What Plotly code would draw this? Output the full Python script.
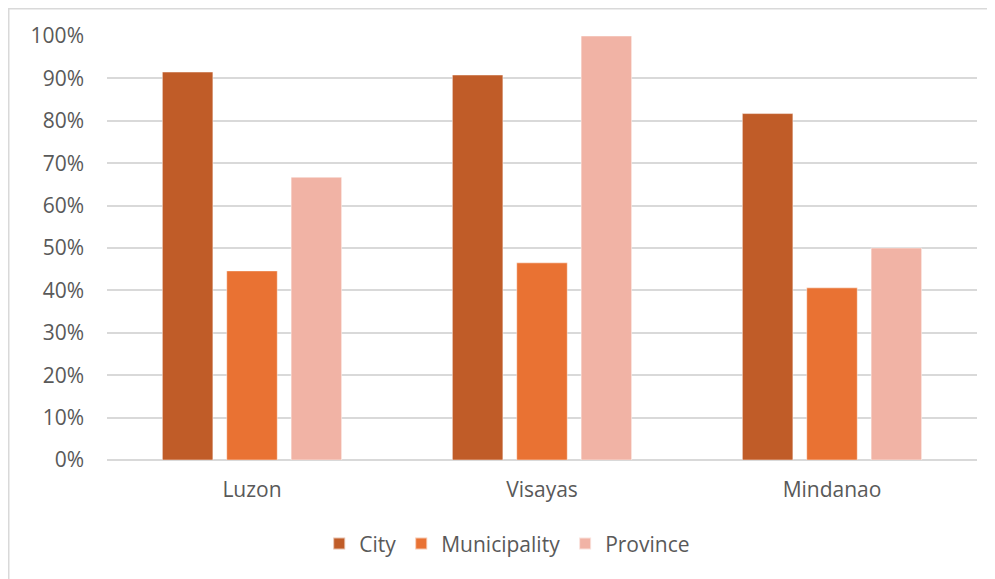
import plotly.graph_objects as go

regions = ["Luzon", "Visayas", "Mindanao"]
city = [0.915, 0.908, 0.817]
municipality = [0.446, 0.465, 0.406]
province = [0.667, 1.0, 0.5]
tick_vals = [0, 0.1, 0.2, 0.3, 0.4, 0.5, 0.6, 0.7, 0.8, 0.9, 1.0]
tick_text = ["0%", "10%", "20%", "30%", "40%", "50%", "60%", "70%", "80%", "90%", "100%"]

colors = {"City": "#C05C28", "Municipality": "#E97233", "Province": "#F1B3A5"}

fig = go.Figure()
for name, vals in [("City", city), ("Municipality", municipality), ("Province", province)]:
    fig.add_trace(go.Bar(x=regions, y=vals, name=name,
                         marker=dict(color=colors[name], line=dict(color="rgba(255,255,255,0.6)", width=0.8))))

W, H = 995, 579
l, r, t, b = 99, 26, 28, 127
pw, ph = W - l - r, H - t - b
FONT = dict(family="Open Sans, Lato, sans-serif", size=21, color="#595959")

fig.update_layout(
    width=W, height=H,
    margin=dict(l=l, r=r, t=t, b=b),
    paper_bgcolor="white", plot_bgcolor="white",
    barmode="group", bargap=0.334, bargroupgap=0.215,
    font=FONT,
    xaxis=dict(showgrid=False, zeroline=False, showline=False, ticks="",
               ticklabelstandoff=15, tickfont=FONT),
    yaxis=dict(range=[0, 1.0], tickvals=tick_vals, ticktext=tick_text,
               showgrid=True, gridcolor="#D9D9D9", gridwidth=1.5,
               zeroline=True, zerolinecolor="#D9D9D9", zerolinewidth=1.5,
               showline=False, ticks="", ticklabelstandoff=22,
               tickfont=FONT),
    legend=dict(orientation="h", x=0.46, xanchor="center", y=-0.198, yanchor="middle",
                font=FONT, itemsizing="constant",
                traceorder="normal", itemwidth=30),
    shapes=[dict(type="rect", xref="paper", yref="paper",
                 x0=(0.75 - l) / pw, x1=(W + 20 - l) / pw,
                 y0=-(H + 20 - t - ph) / ph, y1=1 + (t - 0.75) / ph,
                 line=dict(color="#D9D9D9", width=1.5), fillcolor="rgba(0,0,0,0)", layer="below")],
)

fig.write_html("out.html")
